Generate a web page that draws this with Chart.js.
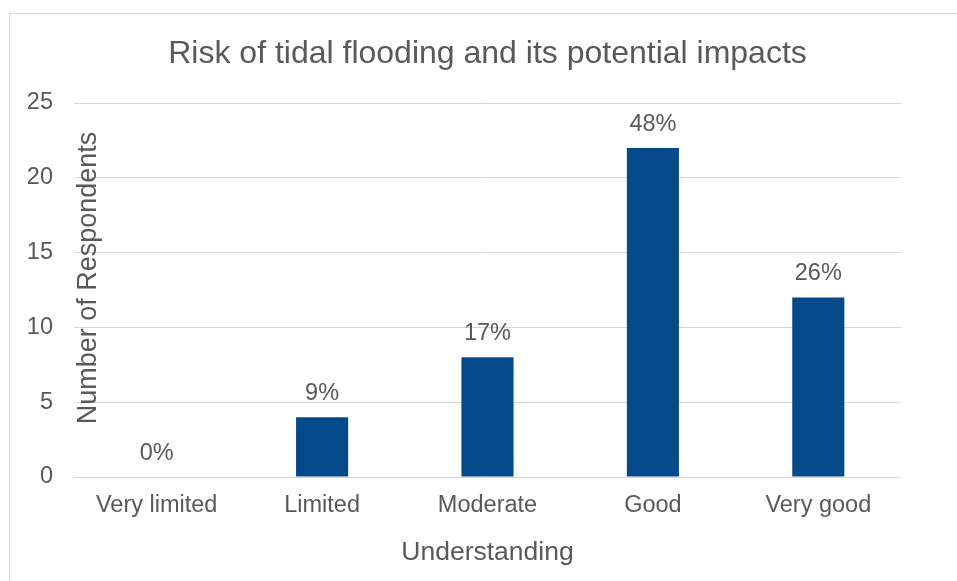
<!DOCTYPE html>
<html>
<head>
<meta charset="utf-8">
<title>Risk of tidal flooding</title>
<script src="https://cdn.jsdelivr.net/npm/chart.js@4/dist/chart.umd.min.js"></script>
<style>
    html, body { margin: 0; padding: 0; background: #ffffff; }
    #wrap { width: 957px; height: 581px; position: relative; }
</style>
</head>
<body>
<div id="wrap"><canvas id="floodChart" width="957" height="581"></canvas></div>
<script>
// Chart data
const categories = ['Very limited', 'Limited', 'Moderate', 'Good', 'Very good'];
const respondents = [0, 4, 8, 22, 12];
const shareLabels = ['0%', '9%', '17%', '48%', '26%'];
const yMax = 25;
const yStep = 5;

const chartTitle = 'Risk of tidal flooding and its potential impacts';
const textColor = '#595959';
const gridColor = '#d9d9d9';
const barColor = '#044a8b';
const fontFamily = '"Liberation Sans", Arial, sans-serif';

// Outer frame, title centred over the plot, y axis title and percentage labels
const extrasPlugin = {
    id: 'extras',
    beforeDraw(chart) {
        const ctx = chart.ctx;
        ctx.save();
        ctx.strokeStyle = gridColor;
        ctx.lineWidth = 1;
        ctx.strokeRect(9.5, 13.5, 1200, 1200);
        ctx.restore();
    },
    afterDatasetsDraw(chart) {
        const ctx = chart.ctx;
        const area = chart.chartArea;
        const meta = chart.getDatasetMeta(0);
        ctx.save();
        ctx.fillStyle = textColor;
        ctx.textAlign = 'center';

        ctx.font = '32px ' + fontFamily;
        ctx.textBaseline = 'alphabetic';
        ctx.fillText(chartTitle, (area.left + area.right) / 2, 63);

        ctx.font = '23.5px ' + fontFamily;
        meta.data.forEach((bar, i) => {
            ctx.fillText(shareLabels[i], bar.x, bar.y - 17);
        });

        // y axis title sits over the plot, as in the source
        ctx.translate(96, 278);
        ctx.rotate(-Math.PI / 2);
        ctx.font = '27px ' + fontFamily;
        ctx.fillText('Number of Respondents', 0, 0);
        ctx.restore();
    }
};

const canvas = document.getElementById('floodChart');
new Chart(canvas.getContext('2d'), {
    type: 'bar',
    data: {
        labels: categories,
        datasets: [{
            label: 'Number of Respondents',
            data: respondents,
            backgroundColor: barColor,
            borderWidth: 0,
            categoryPercentage: 1,
            barPercentage: 0.315
        }]
    },
    options: {
        responsive: false,
        animation: false,
        layout: {
            padding: { left: 0, right: 56, top: 103, bottom: 0 }
        },
        plugins: {
            legend: { display: false },
            tooltip: { enabled: false },
            title: { display: false }
        },
        scales: {
            y: {
                min: 0,
                max: yMax,
                afterFit(scale) { scale.width = 74; },
                ticks: {
                    stepSize: yStep,
                    color: textColor,
                    padding: 21,
                    font: { family: fontFamily, size: 23.5 }
                },
                grid: { color: gridColor, drawTicks: false },
                border: { display: false }
            },
            x: {
                afterFit(scale) { scale.height = 104; },
                ticks: {
                    color: textColor,
                    padding: 14,
                    font: { family: fontFamily, size: 23.5 }
                },
                grid: { display: false, drawTicks: false },
                border: { display: false },
                title: {
                    display: true,
                    text: 'Understanding',
                    color: textColor,
                    font: { family: fontFamily, size: 26.5 },
                    padding: { top: 12, bottom: 12 }
                }
            }
        }
    },
    plugins: [extrasPlugin]
});
</script>
</body>
</html>
